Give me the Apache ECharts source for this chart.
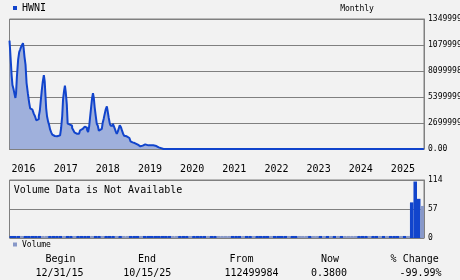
<!DOCTYPE html>
<html>
<head>
<meta charset="utf-8">
<script src="https://cdn.jsdelivr.net/npm/echarts@6/dist/echarts.min.js"></script>
<style>
html,body{margin:0;padding:0;background:#f2f2f2;}
#c{width:460px;height:280px;}
</style>
</head>
<body>
<div id="c"></div>
<script>
// ---- data ----
var ticker = 'HWNI';
var yearTicks = [2016, 2017, 2018, 2019, 2020, 2021, 2022, 2023, 2024, 2025];
var priceTicks = [0, 26999996, 53999992, 80999988, 107999984, 134999980];
var volumeTicks = [0, 57, 114];
// price observation times (decimal years)
var priceYears = [2016.00,2016.02,2016.04,2016.06,2016.08,2016.11,2016.13,2016.15,2016.16,2016.19,2016.22,2016.24,2016.26,2016.29,2016.31,2016.33,2016.34,2016.37,2016.39,2016.42,2016.45,2016.48,2016.50,2016.53,2016.56,2016.59,2016.62,2016.65,2016.68,2016.71,2016.73,2016.75,2016.78,2016.80,2016.83,2016.84,2016.86,2016.88,2016.90,2016.93,2016.95,2016.98,2017.00,2017.03,2017.06,2017.09,2017.13,2017.16,2017.19,2017.21,2017.24,2017.26,2017.28,2017.31,2017.32,2017.35,2017.37,2017.39,2017.42,2017.45,2017.47,2017.50,2017.53,2017.55,2017.58,2017.61,2017.64,2017.66,2017.69,2017.72,2017.75,2017.77,2017.80,2017.83,2017.85,2017.88,2017.90,2017.92,2017.95,2017.97,2017.99,2018.01,2018.03,2018.06,2018.08,2018.11,2018.13,2018.15,2018.18,2018.20,2018.22,2018.25,2018.27,2018.30,2018.32,2018.34,2018.37,2018.39,2018.41,2018.44,2018.46,2018.48,2018.51,2018.53,2018.56,2018.58,2018.60,2018.63,2018.66,2018.68,2018.71,2018.73,2018.75,2018.78,2018.81,2018.83,2018.86,2018.88,2018.91,2018.93,2018.97,2019.00,2019.03,2019.06,2019.09,2019.12,2019.16,2019.19,2019.22,2019.25,2019.28,2019.31,2019.34,2019.37,2019.41,2019.44,2019.47,2019.50,2019.54,2019.56,2019.75,2025.83];
// price in millions
var priceMillions = [112.5,106,91.7,76.8,66.5,62.3,57,53,57.5,74.8,92.8,100.7,103,106,108,110,105,96,87.6,68.5,58,48.5,42.2,41.5,40.8,36.7,34,29.8,31,34,40,49.5,60.6,70.3,76.8,70.3,58,42.2,34,28.7,25,20,17.3,14.9,14.2,13.5,13.2,12.8,14.2,14.2,21.8,34,51.2,60.6,65.8,58.8,46,26.3,25.3,25.3,24.2,21.8,19.4,17.3,16.6,15.9,15.9,17.6,19.4,20.8,21.8,22.5,23.2,22.1,20,17.6,23.5,32.2,42.6,53,58,53,43.6,34.6,26.3,24.2,19,17.3,20.8,22.8,27,31.5,36.7,41.5,44.3,39,32.2,26.3,24.2,24.2,26.3,24.2,21.5,18.3,15.6,18.3,21.1,24.6,22.5,19,15.9,13.8,13.8,13.2,12.5,11.4,9.7,8,6.9,6.2,6.2,5.5,4.5,4.5,3.8,2.8,3.5,4.2,4.8,4.8,3.8,3.8,3.8,3.8,3.8,3.1,3.1,2.4,1.7,0.00000038,0.00000038,0.00000038];
// monthly volume, Jan 2016 .. Oct 2025
var volumeValues = [
 4,4,4,4,4,4,4,4,4,4,4,4, 4,4,4,4,4,4,4,4,4,4,4,4,
 4,4,4,4,4,4,4,4,4,4,4,4, 4,4,4,4,4,4,4,4,4,4,4,4,
 4,4,4,4,4,4,4,4,4,4,4,4, 4,4,4,4,4,4,4,4,4,4,4,4,
 4,4,4,4,4,4,4,4,4,4,4,4, 4,4,4,4,4,4,4,4,4,4,4,4,
 4,4,4,4,4,4,4,4,4,4,4,4, 4,4,4,4,4,4,70,111,77,63
];
// 1 = up month (dark), 0 = down month (light)
var volumeUp = '1110111110011110110111101101110100111011111111001110111101100001110110111101111011000100101010100001110110101110101110';
var footerLabels = ['Begin', 'End', 'From', 'Now', '% Change'];
var footerValues = ['12/31/15', '10/15/25', '112499984', '0.3800', '-99.99%'];

// ---- build ----
var months = [];
for (var y = 2016; y <= 2025; y++) for (var m = 1; m <= 12; m++) if (months.length < volumeValues.length) months.push(y + '-' + m);
var priceData = [];
for (var i = 0; i < Math.min(priceYears.length, priceMillions.length); i++) priceData.push([priceYears[i], priceMillions[i] * 1e6]);
var DARK = '#1144cc', LIGHT = '#8898c8', GRID = '#808080';
var volData = volumeValues.map(function (v, i) {
  return { value: v, itemStyle: { color: volumeUp.charAt(i) === '1' ? DARK : LIGHT } };
});
var mono = 'DejaVu Sans Mono';
var gfx = [
  { type: 'text', left: 13.7, top: 185, style: { text: 'Volume Data is Not Available', font: '10px ' + mono, fill: '#000' } },
  { type: 'text', style: { x: 357, y: 9, text: 'Monthly', font: '8px ' + mono, fill: '#000', align: 'center', verticalAlign: 'middle' } }
];
var fx = [60.5, 147, 241.5, 330, 414.7];
var fvx = [59.5, 147.3, 251.5, 329, 420.5];
footerLabels.forEach(function (t, i) {
  gfx.push({ type: 'text', style: { x: fx[i], y: 259.5, text: t, font: '10px ' + mono, fill: '#000', align: 'center', verticalAlign: 'middle' } });
  gfx.push({ type: 'text', style: { x: fvx[i], y: 273, text: footerValues[i], font: '10px ' + mono, fill: '#000', align: 'center', verticalAlign: 'middle' } });
});

var chart = echarts.init(document.getElementById('c'), null, { renderer: 'canvas' });
chart.setOption({
  backgroundColor: '#f2f2f2',
  animation: false,
  textStyle: { fontFamily: mono },
  legend: [
    { data: [ticker], left: 13, top: 3, padding: 0, icon: 'rect', itemWidth: 4, itemHeight: 4, itemGap: 5,
      textStyle: { fontSize: 10, fontFamily: mono, color: '#000', padding: [0, 0, 0, 0] } },
    { data: ['Volume'], left: 13, top: 240.5, padding: 0, icon: 'rect', itemWidth: 4, itemHeight: 4, itemGap: 3,
      textStyle: { fontSize: 8, fontFamily: mono, color: '#000' } }
  ],
  grid: [
    { left: 9.5, right: 36, top: 19, height: 130, outerBoundsMode: 'none', containLabel: false, show: true, borderColor: GRID, borderWidth: 1, backgroundColor: 'transparent' },
    { left: 9.5, right: 36, top: 180, height: 58, outerBoundsMode: 'none', containLabel: false, show: true, borderColor: GRID, borderWidth: 1, backgroundColor: 'transparent' }
  ],
  xAxis: [
    { type: 'value', gridIndex: 0, min: 2016, max: 2025.8333, interval: 1,
      axisLine: { show: true, lineStyle: { color: GRID } }, axisTick: { show: false }, splitLine: { show: false },
      axisLabel: { show: true, margin: 15, align: 'left', padding: [0, 0, 0, 2], fontSize: 10, fontFamily: mono, color: '#000',
        showMaxLabel: false,
        formatter: function (v) { return yearTicks.indexOf(Math.round(v)) >= 0 && Math.abs(v - Math.round(v)) < 1e-6 ? String(Math.round(v)) : ''; } } },
    { type: 'category', gridIndex: 1, data: months, boundaryGap: true,
      axisLine: { show: false }, axisTick: { show: false }, axisLabel: { show: false }, splitLine: { show: false } }
  ],
  yAxis: [
    { type: 'value', gridIndex: 0, position: 'right', min: priceTicks[0], max: priceTicks[priceTicks.length - 1], interval: priceTicks[1],
      axisLine: { show: true, lineStyle: { color: GRID } }, axisTick: { show: false },
      splitLine: { show: true, lineStyle: { color: GRID, width: 1 } },
      axisLabel: { margin: 4, fontSize: 8, fontFamily: mono, color: '#000', padding: [4, 0, 0, 0],
        formatter: function (v) { return v === 0 ? '0.00' : String(v); } } },
    { type: 'value', gridIndex: 1, position: 'right', min: volumeTicks[0], max: volumeTicks[2], interval: volumeTicks[1],
      axisLine: { show: true, lineStyle: { color: GRID } }, axisTick: { show: false },
      splitLine: { show: true, lineStyle: { color: GRID, width: 1 } },
      axisLabel: { margin: 4, fontSize: 8, fontFamily: mono, color: '#000' } }
  ],
  series: [
    { name: ticker, type: 'line', xAxisIndex: 0, yAxisIndex: 0, data: priceData, step: 'middle',
      showSymbol: false, color: DARK, lineStyle: { color: DARK, width: 2 },
      areaStyle: { color: '#9fb0dc', opacity: 1 } },
    { name: 'Volume', type: 'bar', xAxisIndex: 1, yAxisIndex: 1, data: volData, barWidth: '100%', barCategoryGap: '0%',
      color: LIGHT }
  ],
  graphic: gfx
});
</script>
</body>
</html>
